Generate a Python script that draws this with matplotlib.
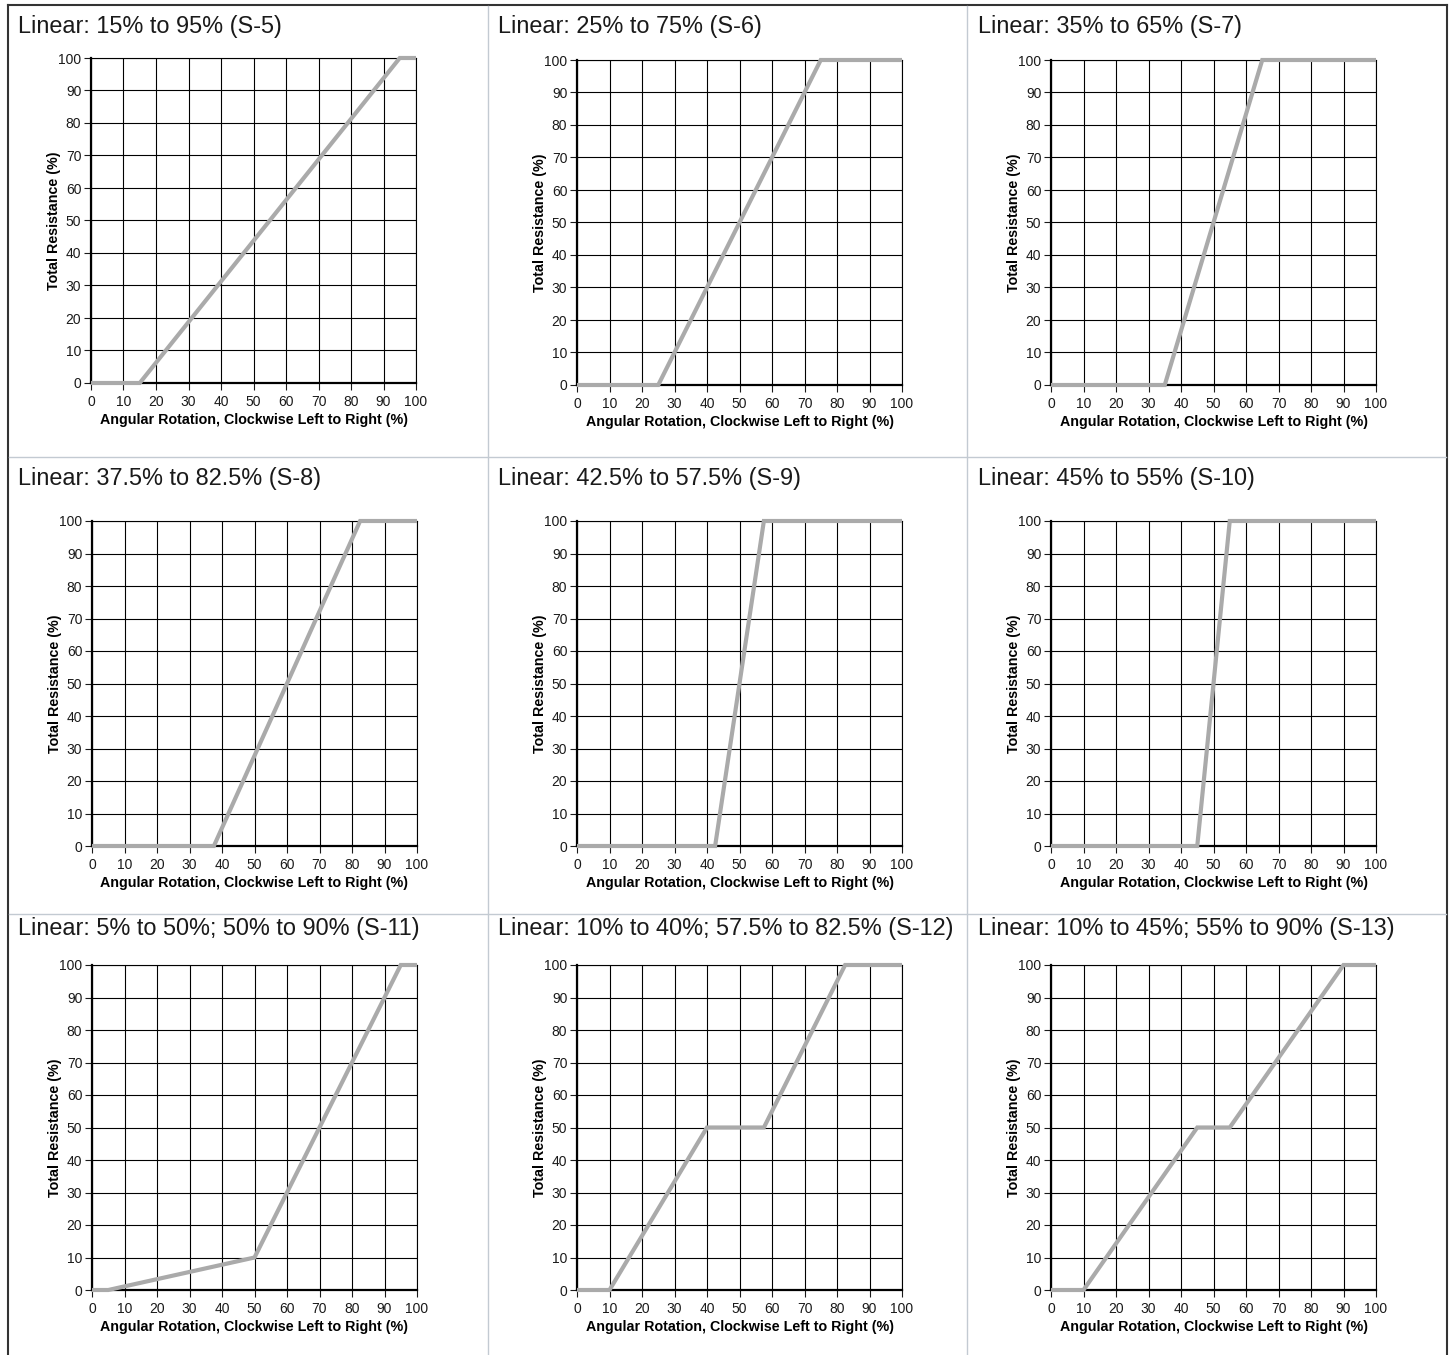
import numpy as np
import matplotlib
matplotlib.use("Agg")
import matplotlib.pyplot as plt
from matplotlib.lines import Line2D

plt.rcParams['font.family'] = ['Liberation Sans', 'DejaVu Sans']

# Datos de cada curva (rotación %, resistencia %)
titulos = [
    "Linear: 15% to 95% (S-5)",
    "Linear: 25% to 75% (S-6)",
    "Linear: 35% to 65% (S-7)",
    "Linear: 37.5% to 82.5% (S-8)",
    "Linear: 42.5% to 57.5% (S-9)",
    "Linear: 45% to 55% (S-10)",
    "Linear: 5% to 50%; 50% to 90% (S-11)",
    "Linear: 10% to 40%; 57.5% to 82.5% (S-12)",
    "Linear: 10% to 45%; 55% to 90% (S-13)",
]
rot_s5 = [0, 15, 95, 100]
res_s5 = [0, 0, 100, 100]
rot_s6 = [0, 25, 75, 100]
res_s6 = [0, 0, 100, 100]
rot_s7 = [0, 35, 65, 100]
res_s7 = [0, 0, 100, 100]
rot_s8 = [0, 37.5, 82.5, 100]
res_s8 = [0, 0, 100, 100]
rot_s9 = [0, 42.5, 57.5, 100]
res_s9 = [0, 0, 100, 100]
rot_s10 = [0, 45, 55, 100]
res_s10 = [0, 0, 100, 100]
rot_s11 = [0, 5, 50, 95, 100]
res_s11 = [0, 0, 10, 100, 100]
rot_s12 = [0, 10, 40, 57.5, 82.5, 100]
res_s12 = [0, 0, 50, 50, 100, 100]
rot_s13 = [0, 10, 45, 55, 90, 100]
res_s13 = [0, 0, 50, 50, 100, 100]

curvas = [(rot_s5, res_s5), (rot_s6, res_s6), (rot_s7, res_s7),
          (rot_s8, res_s8), (rot_s9, res_s9), (rot_s10, res_s10),
          (rot_s11, res_s11), (rot_s12, res_s12), (rot_s13, res_s13)]

ticks = np.arange(0, 101, 10)
xlabel = "Angular Rotation, Clockwise Left to Right (%)"
ylabel = "Total Resistance (%)"

# Layout en pixeles
W, H = 1452, 1355
col_left = [91, 577, 1051]
row_top = [60, 521, 965]
ax_w, ax_h = 325, 325
title_x = [18, 498, 978]
title_base = [33, 485, 935]

fig = plt.figure(figsize=(W / 100, H / 100), dpi=100)


def fx(px):
    return px / W


def fy(py):
    return 1 - py / H


for i, (titulo, (xs, ys)) in enumerate(zip(titulos, curvas)):
    r, c = divmod(i, 3)
    l = col_left[c] + (1 if r > 0 and c == 0 else 0)
    t = row_top[r] + (-2 if r == 0 and c == 0 else 0)
    ax = fig.add_axes([fx(l), fy(t + ax_h), ax_w / W, ax_h / H])
    ax.plot(xs, ys, color='#aaaaaa', lw=3, zorder=3, clip_on=False,
            solid_capstyle='butt', solid_joinstyle='miter')
    ax.set_xlim(0, 100)
    ax.set_ylim(0, 100)
    ax.set_xticks(ticks)
    ax.set_yticks(ticks)
    ax.grid(True, color='black', lw=0.8)
    ax.set_axisbelow(True)
    for s in ['top', 'right']:
        ax.spines[s].set_linewidth(0.8)
    for s in ['left', 'bottom']:
        ax.spines[s].set_linewidth(1.6)
    ax.tick_params(direction='out', length=5, width=0.8, labelsize=10,
                   colors='#1a1a1a')
    ax.tick_params(axis='x', pad=3.5)
    ax.tick_params(axis='y', pad=2)
    ax.set_xlabel(xlabel, fontsize=10.3, fontweight='bold', labelpad=3)
    ax.set_ylabel(ylabel, fontsize=10.3, fontweight='bold', labelpad=-2)
    fig.text(fx(title_x[c]), fy(title_base[r]), titulo, fontsize=16.9,
             color='#1a1a1a', ha='left', va='baseline')

# Marco y divisiones
marco = '#333333'
div = '#c3cad2'
fig.add_artist(Line2D([fx(8), fx(1447)], [fy(5), fy(5)], color=marco, lw=1.5))
fig.add_artist(Line2D([fx(8), fx(8)], [fy(5), fy(H)], color=marco, lw=1.5))
fig.add_artist(Line2D([fx(1447), fx(1447)], [fy(5), fy(H)], color=marco, lw=1.5))
for yy in [457, 914]:
    fig.add_artist(Line2D([fx(9), fx(1446)], [fy(yy), fy(yy)], color=div, lw=1))
for xx in [488, 967]:
    fig.add_artist(Line2D([fx(xx), fx(xx)], [fy(6), fy(H)], color=div, lw=1))

fig.savefig("out.png", dpi=100)
